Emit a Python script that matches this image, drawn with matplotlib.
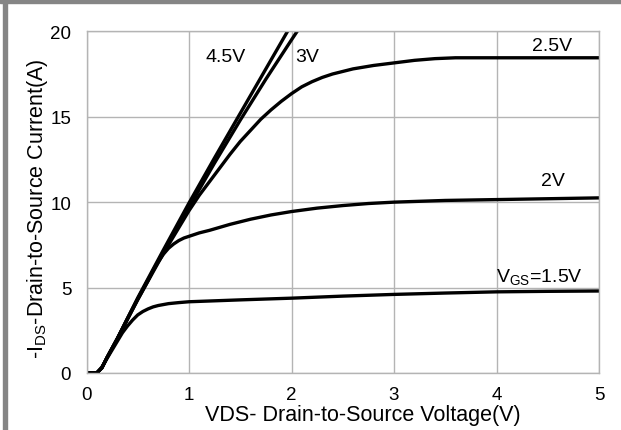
import matplotlib
matplotlib.use("Agg")
import matplotlib.pyplot as plt
from matplotlib.patches import Rectangle

plt.rcParams['font.family'] = ['Liberation Sans', 'DejaVu Sans']
plt.rcParams['mathtext.default'] = 'regular'

# Data
v_45 = [0, 0.1, 0.15, 0.2, 0.3, 0.4, 0.5, 0.75, 1.0, 1.25, 1.5, 1.75, 2.0]
i_45 = [0, 0, 0.3, 0.9, 2.0, 3.2, 4.4, 7.2, 9.95, 12.6, 15.2, 17.8, 20.4]

v_3 = [0, 0.1, 0.15, 0.2, 0.3, 0.4, 0.5, 0.75, 1.0, 1.25, 1.5, 1.75, 2.0, 2.1]
i_3 = [0, 0, 0.3, 0.9, 2.0, 3.2, 4.35, 7.1, 9.7, 12.3, 14.8, 17.2, 19.5, 20.4]

v_25 = [0, 0.1, 0.15, 0.2, 0.3, 0.5, 0.75, 1.0, 1.1, 1.2, 1.3, 1.4, 1.5, 1.6, 1.7, 1.8, 1.9,
        2.0, 2.1, 2.2, 2.3, 2.4, 2.5, 2.6, 2.8, 3.0, 3.2, 3.4, 3.6, 4.0, 4.5, 5.0]
i_25 = [0, 0, 0.3, 0.9, 2.0, 4.3, 7.0, 9.5, 10.4, 11.2, 12.0, 12.8, 13.55, 14.2, 14.85, 15.4, 15.9,
        16.35, 16.75, 17.05, 17.3, 17.5, 17.65, 17.8, 18.0, 18.15, 18.3, 18.4, 18.45, 18.45, 18.45, 18.45]

v_2 = [0, 0.1, 0.15, 0.2, 0.3, 0.5, 0.6, 0.65, 0.7, 0.75, 0.8, 0.85, 0.9, 0.95, 1.0, 1.1, 1.2, 1.4,
       1.6, 1.8, 2.0, 2.25, 2.5, 2.75, 3.0, 3.5, 4.0, 4.5, 5.0]
i_2 = [0, 0, 0.3, 0.9, 2.0, 4.3, 5.4, 6.0, 6.5, 6.95, 7.3, 7.55, 7.75, 7.9, 8.0, 8.2, 8.35, 8.7,
       9.0, 9.25, 9.45, 9.65, 9.8, 9.92, 10.0, 10.1, 10.15, 10.2, 10.25]

v_15 = [0, 0.1, 0.15, 0.2, 0.25, 0.3, 0.35, 0.4, 0.45, 0.5, 0.55, 0.6, 0.65, 0.7, 0.8, 0.9, 1.0,
        1.5, 2.0, 2.5, 3.0, 3.5, 4.0, 4.5, 5.0]
i_15 = [0, 0, 0.35, 0.85, 1.35, 1.85, 2.35, 2.75, 3.1, 3.4, 3.6, 3.75, 3.87, 3.95, 4.06, 4.12, 4.17,
        4.28, 4.38, 4.5, 4.6, 4.68, 4.75, 4.78, 4.8]

x_ticks = [0, 1, 2, 3, 4, 5]
y_ticks = [0, 5, 10, 15, 20]

fig = plt.figure(figsize=(6.21, 4.31), dpi=100)
W, H = 621, 431
x0, x1, y0, y1 = 86.5, 599, 374, 32.3
ax = fig.add_axes([x0 / W, 1 - y0 / H, (x1 - x0) / W, (y0 - y1) / H])

for v, i in [(v_45, i_45), (v_3, i_3), (v_25, i_25), (v_2, i_2), (v_15, i_15)]:
    ax.plot(v, i, color='black', lw=2.4, solid_capstyle='round', solid_joinstyle='round', clip_on=True)

ax.set_xlim(0, 5)
ax.set_ylim(0, 20)
ax.set_xticks(x_ticks)
ax.set_yticks(y_ticks)
ax.tick_params(axis='y', length=0, labelsize=13.5, pad=11)
ax.tick_params(axis='x', length=0, labelsize=13.5, pad=9)
ax.grid(True, color='#b4b4b4', lw=1)
for s in ax.spines.values():
    s.set_color('#b4b4b4')
    s.set_linewidth(1)

ax.set_xlabel('VDS- Drain-to-Source Voltage(V)', fontsize=15.5)
ax.xaxis.set_label_coords((362.5 - x0) / (x1 - x0), (y0 - 416) / (y0 - y1))
ax.xaxis.label.set_va('center')
ax.set_ylabel('-I$_{DS}$-Drain-to-Source Current(A)', fontsize=15.5)
ax.yaxis.set_label_coords((38 - x0) / (x1 - x0), (y0 - 209) / (y0 - y1))
ax.yaxis.label.set_va('center')

ax.text(1.16, 18.5, '4.5V', fontsize=14, va='center', ha='left')
ax.text(2.04, 18.5, '3V', fontsize=14, va='center', ha='left')
ax.text(4.35, 19.17, '2.5V', fontsize=14, va='center', ha='left')
ax.text(4.43, 11.26, '2V', fontsize=14, va='center', ha='left')
ax.text(4.0, 5.7, 'V$_{GS}$=1.5V', fontsize=14, va='center', ha='left')

# gray frame strips
fig.patches.append(Rectangle((0, 1 - 4.3 / H), 1, 4.3 / H, transform=fig.transFigure, color='#858585', zorder=0))
fig.patches.append(Rectangle((2.7 / W, 0), 4.0 / W, 1, transform=fig.transFigure, color='#858585', zorder=0))

fig.savefig('out.png', dpi=100)
